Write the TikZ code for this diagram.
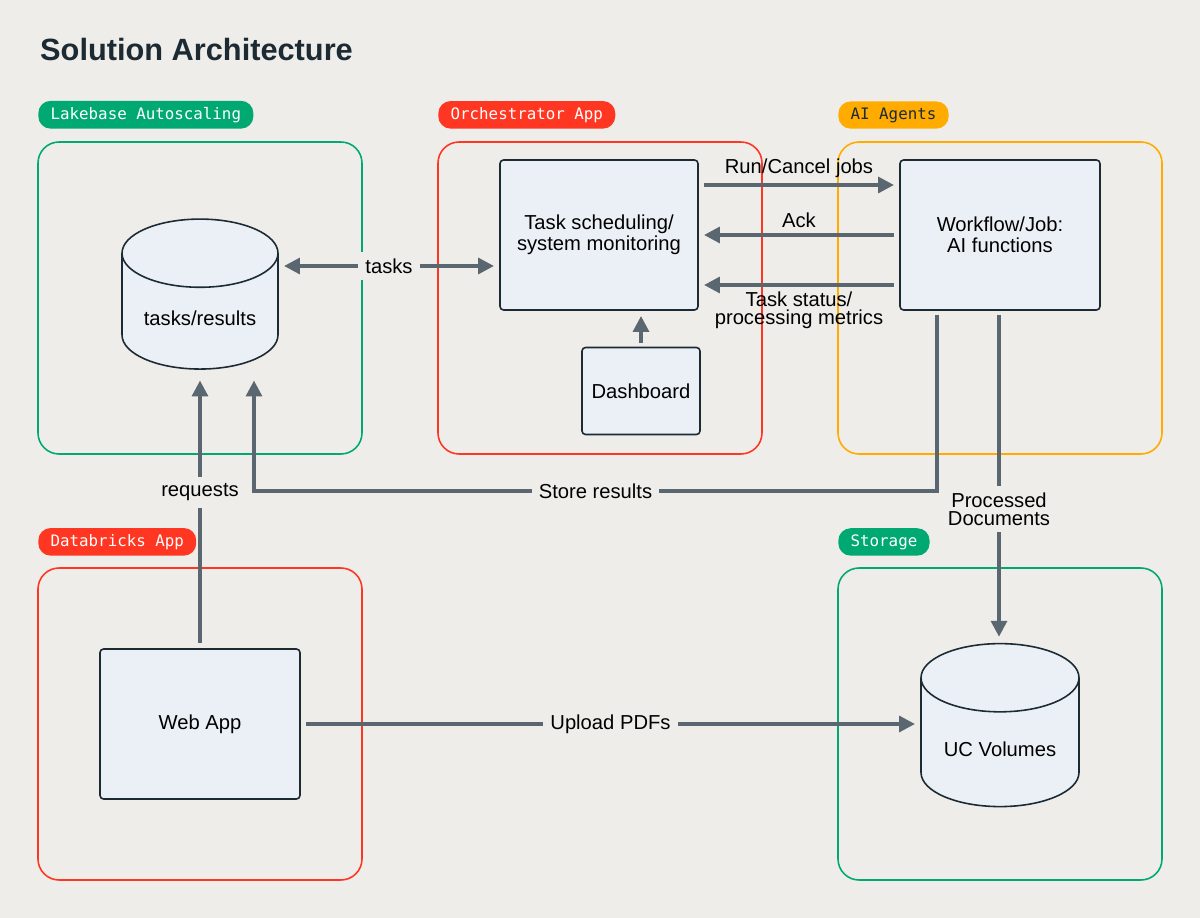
\documentclass[tikz,border=0pt]{standalone}
\usepackage{fontspec}
\setmainfont{Liberation Sans}
\setmonofont{DejaVu Sans Mono}
\usetikzlibrary{positioning,calc,arrows.meta,shapes.geometric}
\definecolor{bgc}{HTML}{EEEDE9}
\definecolor{boxc}{HTML}{EBF0F6}
\definecolor{linec}{HTML}{5A6670}
\definecolor{dbred}{HTML}{FF3621}
\definecolor{dbgreen}{HTML}{00A972}
\definecolor{dborange}{HTML}{FFAB00}
\definecolor{titlec}{HTML}{1B2A33}
\tikzset{
  group/.style={draw=#1, line width=0.9pt, rounded corners=12pt},
  tag/.style={fill=#1, text=white, rounded corners=7pt, font=\ttfamily\fontsize{9}{11}\selectfont,
    inner xsep=7pt, inner ysep=3.5pt, anchor=south west},
  comp/.style={draw=titlec, fill=boxc, line width=0.9pt, rounded corners=2pt,
    align=center, font=\fontsize{11.5}{12}\selectfont},
  store/.style={cylinder, shape border rotate=90, draw=titlec, fill=boxc,
    line width=0.9pt, aspect=0.55, font=\fontsize{11.5}{13}\selectfont},
  flow/.style={draw=linec, line width=2pt, -{Triangle[length=9pt,width=9pt]}},
  lbl/.style={fill=bgc, font=\fontsize{11.5}{10}\selectfont, inner sep=4pt, align=center},
}
\begin{document}
\begin{tikzpicture}[x=0.02cm, y=-0.02cm]
  \fill[bgc] (0,0) rectangle (1200,918);
  \node[anchor=west, font=\bfseries\fontsize{17.5}{20}\selectfont, text=titlec] (title) at (34,50) {Solution Architecture};

  % groups
  \draw[group=dbgreen] (38,142) rectangle (362,454);
  \draw[group=dbred] (438,142) rectangle (762,454);
  \draw[group=dborange] (838,142) rectangle (1162,454);
  \draw[group=dbred] (38,568) rectangle (362,880);
  \draw[group=dbgreen] (838,568) rectangle (1162,880);
  \node[tag=dbgreen] (tlake) at (38,129) {Lakebase Autoscaling};
  \node[tag=dbred] (torch) at (438,129) {Orchestrator App};
  \node[tag=dborange, text=titlec] (tagents) at (838,129) {AI Agents};
  \node[tag=dbred] (tapp) at (38,556) {Databricks App};
  \node[tag=dbgreen] (tstore) at (838,556) {Storage};

  % components
  \node[store, minimum width=3.12cm, minimum height=3.0cm] (db) at (200,318) {tasks/results};
  \node[comp, minimum width=3.96cm, minimum height=3.0cm] (sched) at (599,235) {Task scheduling/\\system monitoring};
  \node[comp, minimum width=2.36cm, minimum height=1.74cm] (dash) at (641,391) {Dashboard};
  \node[comp, minimum width=4.0cm, minimum height=3.0cm] (wf) at (1000,235) {Workflow/Job:\\AI functions};
  \node[comp, minimum width=4.0cm, minimum height=3.0cm] (web) at (200,724) {Web App};
  \node[store, minimum width=3.16cm, minimum height=3.26cm] (uc) at (1000,749) {UC Volumes};

  \coordinate (wfs) at (937,310);
  \coordinate (wfp) at (999,310);
  \coordinate (dbr) at (254,370);
  \coordinate (dbl) at (200,370);
  \coordinate (ucn) at (999,642);

  % connectors
  \draw[flow, {Triangle[length=9pt,width=9pt]}-{Triangle[length=9pt,width=9pt]}, shorten <=3pt, shorten >=3pt]
    (db.east |- 0,266) -- node[lbl] {tasks} (sched.west |- 0,266);
  \draw[flow, shorten <=3pt, shorten >=3pt] (sched.east |- 0,185) -- node[above, font=\fontsize{11.5}{12}\selectfont, inner sep=3pt] {Run/Cancel jobs} (wf.west |- 0,185);
  \draw[flow, shorten <=3pt, shorten >=3pt] (wf.west |- 0,235) -- node[above, font=\fontsize{11.5}{12}\selectfont, inner sep=3pt] {Ack} (sched.east |- 0,235);
  \draw[flow, shorten <=3pt, shorten >=3pt] (wf.west |- 0,285) -- node[below, font=\fontsize{11.5}{10}\selectfont, inner sep=3pt, align=center] {Task status/\\processing metrics} (sched.east |- 0,285);
  \draw[flow, shorten <=2pt, shorten >=3pt] (dash) -- (dash |- sched.south);
  \draw[flow, shorten <=3pt, shorten >=6pt] (wfs) -- (937,491) -- node[lbl] {Store results} (254,491) -- (dbr);
  \draw[flow, shorten <=3pt, shorten >=6pt] (web.north) -- node[lbl, pos=0.56] {requests} (dbl);
  \draw[flow, shorten <=3pt, shorten >=3pt] (wfp) -- node[lbl, pos=0.6] {Processed\\Documents} (ucn);
  \draw[flow, shorten <=3pt, shorten >=3pt] (web.east) -- node[lbl] {Upload PDFs} (uc.west |- web.east);
\end{tikzpicture}
\end{document}
